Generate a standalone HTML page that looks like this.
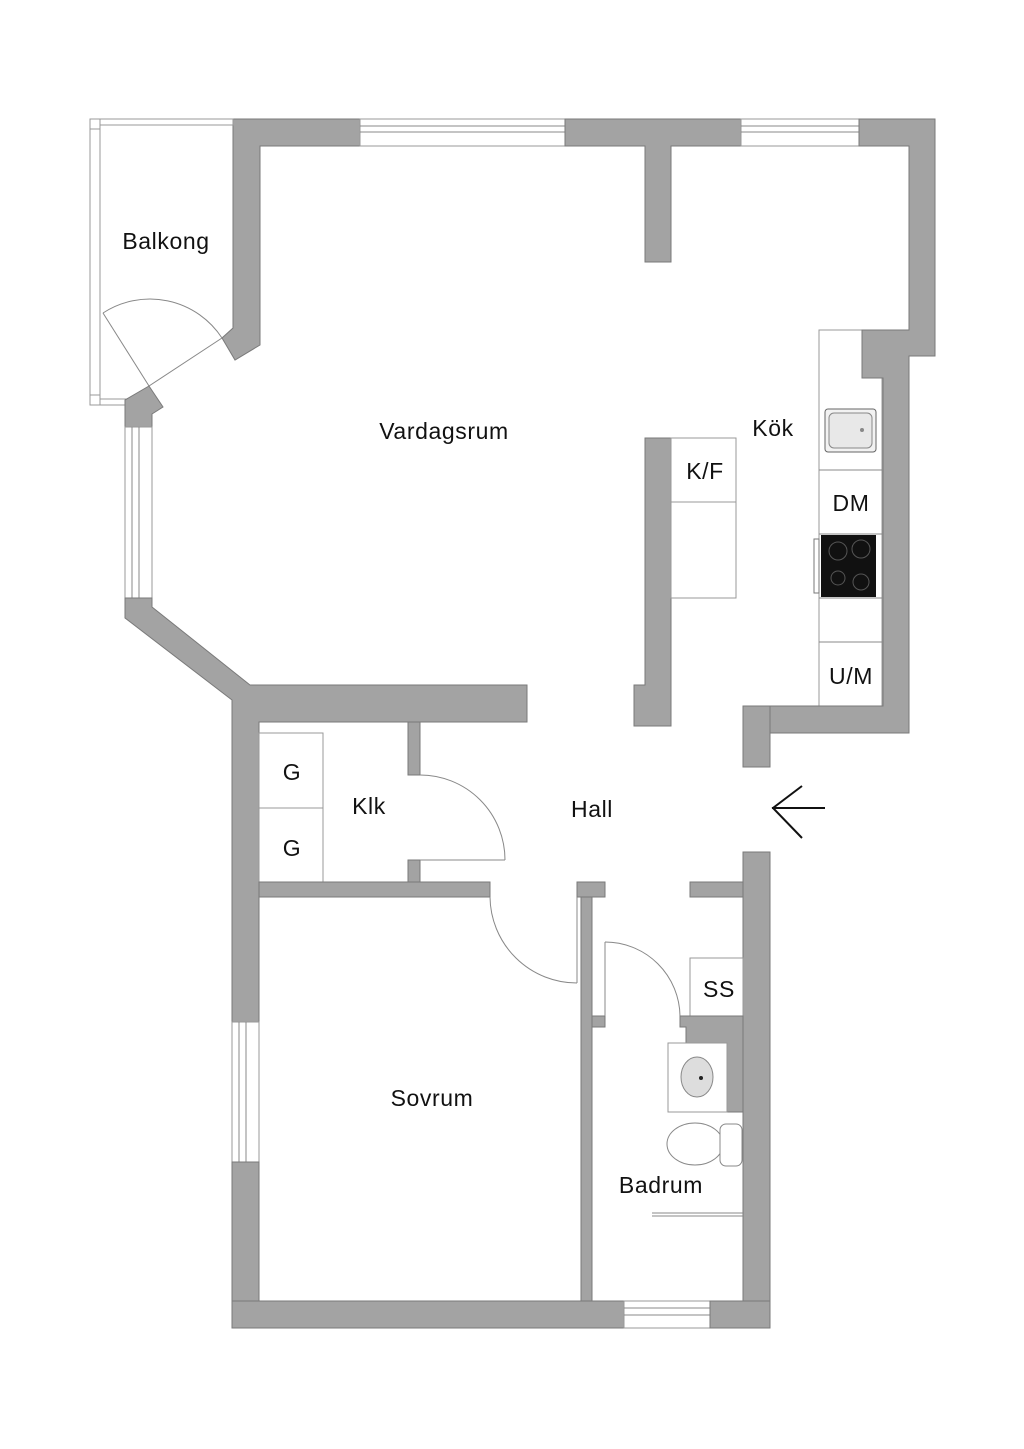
<!DOCTYPE html>
<html><head><meta charset="utf-8"><style>
html,body{margin:0;padding:0;background:#fff}
svg{display:block}
text{font-family:"Liberation Sans",sans-serif;font-size:23px;fill:#111;text-anchor:middle;dominant-baseline:central;letter-spacing:0.6px}
.w{fill:#a3a3a3;stroke:#7a7a7a;stroke-width:1}
.l{fill:none;stroke:#888;stroke-width:1}
.b{fill:#fff;stroke:#999;stroke-width:1}
</style></head><body>
<svg width="1024" height="1449" viewBox="0 0 1024 1449" xmlns="http://www.w3.org/2000/svg">
<polygon class="w" points="233,119 360,119 360,146 260,146 260,345 235,360 222,338 233,328"/>
<rect class="b" x="360" y="119" width="205" height="27"/>
<line class="l" x1="360" y1="126" x2="565" y2="126"/><line class="l" x1="360" y1="132" x2="565" y2="132"/>
<polygon class="w" points="565,119 741,119 741,146 671,146 671,262 645,262 645,146 565,146"/>
<rect class="b" x="741" y="119" width="118" height="27"/>
<line class="l" x1="741" y1="126" x2="859" y2="126"/><line class="l" x1="741" y1="132" x2="859" y2="132"/>
<!-- counter -->
<rect class="b" x="819" y="330" width="63" height="376"/>
<line class="l" x1="819" y1="470" x2="882" y2="470"/>
<line class="l" x1="819" y1="534" x2="882" y2="534"/>
<line class="l" x1="819" y1="598" x2="882" y2="598"/>
<line class="l" x1="819" y1="642" x2="882" y2="642"/>
<polygon class="w" points="859,119 935,119 935,356 909,356 909,733 743,733 743,706 883,706 883,378 862,378 862,330 909,330 909,146 859,146"/>
<rect x="825" y="409" width="51" height="43" rx="3" fill="#f2f2f2" stroke="#666"/>
<rect x="829" y="413" width="43" height="35" rx="5" fill="#e8e8e8" stroke="#888"/>
<circle cx="862" cy="430" r="2" fill="#888"/>
<rect x="814" y="539" width="5" height="54" fill="none" stroke="#777"/>
<rect x="821" y="535" width="55" height="62" fill="#111"/>
<circle cx="838" cy="551" r="9" fill="none" stroke="#555"/><circle cx="861" cy="549" r="9" fill="none" stroke="#555"/>
<circle cx="838" cy="578" r="7" fill="none" stroke="#555"/><circle cx="861" cy="582" r="8" fill="none" stroke="#555"/>
<rect class="w" x="743" y="706" width="27" height="61"/>
<rect class="w" x="743" y="852" width="27" height="476"/>
<rect class="b" x="90" y="119" width="143" height="6"/>
<rect class="b" x="90" y="119" width="10" height="286"/>
<rect class="b" x="90" y="399" width="36" height="6"/>
<rect class="b" x="90" y="119" width="10" height="10"/>
<rect class="b" x="90" y="395" width="10" height="10"/>
<line class="l" x1="149" y1="386" x2="103" y2="313"/>
<path class="l" d="M103,313 A86,86 0 0 1 222,338"/>
<line class="l" x1="149" y1="386" x2="222" y2="338"/>
<polygon class="w" points="125,400 149,386 163,407 152,414 152,427 125,427"/>
<rect class="b" x="125" y="427" width="27" height="171"/>
<line class="l" x1="132" y1="427" x2="132" y2="598"/><line class="l" x1="139" y1="427" x2="139" y2="598"/>
<polygon class="w" points="125,598 152,598 152,607 250,685 527,685 527,722 259,722 259,1022 232,1022 232,700 125,618"/>
<rect class="b" x="232" y="1022" width="27" height="140"/>
<line class="l" x1="239" y1="1022" x2="239" y2="1162"/><line class="l" x1="246" y1="1022" x2="246" y2="1162"/>
<rect class="w" x="232" y="1162" width="27" height="166"/>
<rect class="w" x="232" y="1301" width="392" height="27"/>
<rect class="b" x="624" y="1301" width="86" height="27"/>
<line class="l" x1="624" y1="1308" x2="710" y2="1308"/><line class="l" x1="624" y1="1315" x2="710" y2="1315"/>
<rect class="w" x="710" y="1301" width="60" height="27"/>
<polygon class="w" points="645,438 671,438 671,726 634,726 634,685 645,685"/>
<rect class="b" x="671" y="438" width="65" height="64"/>
<rect class="b" x="671" y="502" width="65" height="96"/>
<rect class="b" x="259" y="733" width="64" height="75"/>
<rect class="b" x="259" y="808" width="64" height="74"/>
<rect class="w" x="408" y="722" width="12" height="53"/>
<rect class="w" x="408" y="860" width="12" height="22"/>
<line class="l" x1="420" y1="860" x2="505" y2="860"/>
<path class="l" d="M420,775 A85,85 0 0 1 505,860"/>
<rect class="w" x="259" y="882" width="231" height="15"/>
<line class="l" x1="577" y1="897" x2="577" y2="983"/>
<path class="l" d="M490,897 A87,87 0 0 0 577,983"/>
<rect class="w" x="577" y="882" width="28" height="15"/>
<rect class="w" x="581" y="897" width="11" height="404"/>
<rect class="w" x="592" y="1016" width="13" height="11"/>
<line class="l" x1="605" y1="942" x2="605" y2="1016"/>
<path class="l" d="M605,942 A75,75 0 0 1 680,1016"/>
<rect class="w" x="690" y="882" width="53" height="15"/>
<rect class="b" x="690" y="958" width="53" height="58"/>
<polygon class="w" points="680,1016 743,1016 743,1112 727,1112 727,1043 686,1043 686,1027 680,1027"/>
<rect class="b" x="668" y="1043" width="59" height="69"/>
<ellipse cx="697" cy="1077" rx="16" ry="20" fill="#ddd" stroke="#888"/>
<circle cx="701" cy="1078" r="2" fill="#222"/>
<ellipse cx="695" cy="1144" rx="28" ry="21" fill="#fff" stroke="#888"/>
<rect x="720" y="1124" width="22" height="42" rx="6" fill="#fff" stroke="#888"/>
<line class="l" x1="652" y1="1213" x2="743" y2="1213"/>
<line class="l" x1="652" y1="1216" x2="743" y2="1216"/>
<line x1="772" y1="808" x2="825" y2="808" stroke="#111" stroke-width="2"/>
<polyline points="802,786 773,808 802,838" fill="none" stroke="#111" stroke-width="2"/>
<text x="166" y="241">Balkong</text>
<text x="444" y="431">Vardagsrum</text>
<text x="773" y="428">Kök</text>
<text x="705" y="471">K/F</text>
<text x="851" y="503">DM</text>
<text x="851" y="676">U/M</text>
<text x="292" y="772">G</text>
<text x="292" y="848">G</text>
<text x="369" y="806">Klk</text>
<text x="592" y="809">Hall</text>
<text x="719" y="989">SS</text>
<text x="432" y="1098">Sovrum</text>
<text x="661" y="1185">Badrum</text>
</svg>
</body></html>
